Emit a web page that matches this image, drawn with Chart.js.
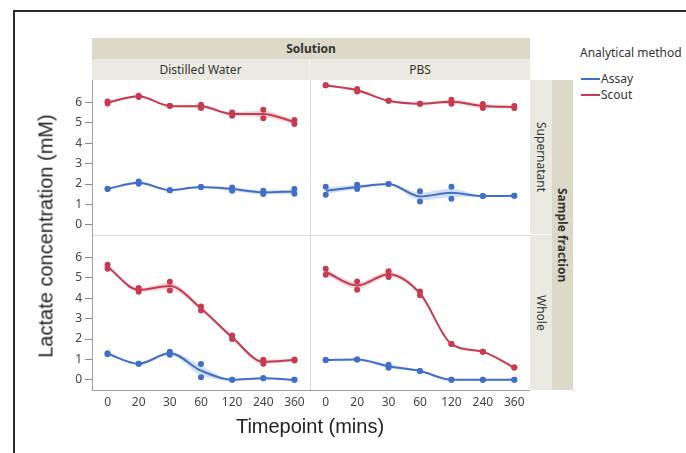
<!DOCTYPE html>
<html>
<head>
<meta charset="utf-8">
<script src="https://cdn.jsdelivr.net/npm/chart.js@4"></script>
<style>
body { margin: 0; width: 686px; height: 453px; background: #fff; position: relative; overflow: hidden; font-family: "Noto Sans", sans-serif; color: #333; }
.abs { position: absolute; }
.frame { left: 13px; top: 10px; width: 700px; height: 460px; border-left: 2px solid #2b2b2b; border-top: 2px solid #2b2b2b; }
.strip { display: flex; align-items: center; justify-content: center; font-size: 12px; color: #333; box-sizing: border-box; }
.outer { background: #dcd9c9; font-weight: bold; }
.inner { background: #ebeae2; }
.vert { writing-mode: vertical-rl; }
.line { background: #d9d9d9; }
canvas { position: absolute; }
.title { font-family: "Liberation Sans", Arial, sans-serif; font-size: 20px; color: #222; white-space: nowrap; }
.leg { font-size: 12px; color: #333; white-space: nowrap; }
.sw { position: absolute; height: 2px; width: 19px; }
</style>
</head>
<body>
<div class="abs frame"></div>

<!-- facet strips -->
<div class="abs strip outer" style="left:92px;top:38px;width:438px;height:21px;">Solution</div>
<div class="abs strip inner" style="left:92px;top:59px;width:218px;height:21px;border-right:1px solid #f7f7f3;">Distilled Water</div>
<div class="abs strip inner" style="left:310px;top:59px;width:220px;height:21px;">PBS</div>
<div class="abs strip inner vert" style="left:530px;top:80px;width:22px;height:155px;border-bottom:1px solid #f7f7f3;">Supernatant</div>
<div class="abs strip inner vert" style="left:530px;top:235px;width:22px;height:155px;">Whole</div>
<div class="abs strip outer vert" style="left:552px;top:80px;width:21px;height:310px;">Sample fraction</div>

<!-- panel separators -->
<div class="abs line" style="left:310px;top:80px;width:1px;height:310px;"></div>
<div class="abs line" style="left:92px;top:235px;width:438px;height:1px;"></div>

<canvas id="tl" width="260" height="155" style="left:50px;top:80px;"></canvas>
<canvas id="tr" width="220" height="155" style="left:310px;top:80px;"></canvas>
<canvas id="bl" width="260" height="185" style="left:50px;top:235px;"></canvas>
<canvas id="br" width="220" height="185" style="left:310px;top:235px;"></canvas>

<!-- axis titles -->
<div class="abs title" style="left:46px;top:236px;transform:translate(-50%,-50%) rotate(-90deg);">Lactate concentration (mM)</div>
<div class="abs title" style="left:310px;top:426px;transform:translate(-50%,-50%);">Timepoint (mins)</div>

<!-- legend -->
<div class="abs leg" style="left:580px;top:44px;">Analytical method</div>
<div class="sw" style="left:581px;top:78px;background:#3f6fca;"></div>
<div class="abs leg" style="left:601px;top:70px;">Assay</div>
<div class="sw" style="left:581px;top:94px;background:#c83a4f;"></div>
<div class="abs leg" style="left:601px;top:86px;">Scout</div>

<script>
// x categories and y tick labels
var timepoints = ["0", "20", "30", "60", "120", "240", "360"];
var yTickLabels = [0, 1, 2, 3, 4, 5, 6];

// Distilled Water - Supernatant (two replicates per timepoint)
var dwSupAssay1 = [1.77, 2.12, 1.70, 1.85, 1.83, 1.67, 1.75];
var dwSupAssay2 = [1.75, 2.01, 1.70, 1.85, 1.67, 1.51, 1.52];
var dwSupScout1 = [6.05, 6.33, 5.84, 5.89, 5.51, 5.64, 5.14];
var dwSupScout2 = [5.95, 6.27, 5.82, 5.73, 5.35, 5.23, 4.94];

// PBS - Supernatant
var pbsSupAssay1 = [1.86, 1.96, 2.00, 1.64, 1.86, 1.41, 1.42];
var pbsSupAssay2 = [1.47, 1.75, 2.00, 1.14, 1.28, 1.41, 1.42];
var pbsSupScout1 = [6.84, 6.66, 6.08, 5.94, 6.13, 5.92, 5.82];
var pbsSupScout2 = [6.84, 6.54, 6.08, 5.94, 5.94, 5.73, 5.73];

// Distilled Water - Whole
var dwWholeAssay1 = [1.30, 0.79, 1.37, 0.77, 0.00, 0.08, 0.00];
var dwWholeAssay2 = [1.25, 0.79, 1.23, 0.13, 0.00, 0.08, 0.00];
var dwWholeScout1 = [5.64, 4.50, 4.81, 3.60, 2.17, 0.98, 1.00];
var dwWholeScout2 = [5.45, 4.32, 4.38, 3.40, 2.00, 0.79, 0.95];

// PBS - Whole
var pbsWholeAssay1 = [0.97, 1.00, 0.74, 0.43, 0.00, 0.00, 0.00];
var pbsWholeAssay2 = [0.97, 1.00, 0.59, 0.43, 0.00, 0.00, 0.00];
var pbsWholeScout1 = [5.45, 4.82, 5.32, 4.33, 1.75, 1.37, 0.60];
var pbsWholeScout2 = [5.15, 4.42, 5.04, 4.14, 1.75, 1.37, 0.60];

var blue = "#3f6fca";
var red = "#c83a4f";
var blueBand = "rgba(63,111,202,0.22)";
var redBand = "rgba(200,58,79,0.22)";
var tickFont = { family: "Noto Sans", size: 12 };

// major ticks at the labels, minor ticks halfway between
var yTicks = [];
yTickLabels.forEach(function (v) { yTicks.push(v); yTicks.push(v + 0.5); });

function mean(a, b) { return a.map(function (v, i) { return (v + b[i]) / 2; }); }
function band(a, b, side) {
    // smoother confidence band, narrower than the replicate spread
    return a.map(function (v, i) {
        var m = (v + b[i]) / 2, d = Math.abs(v - b[i]) * 0.3 + 0.04;
        return side > 0 ? m + d : m - d;
    });
}

function seriesSets(r1, r2, color, fillColor) {
    var common = { cubicInterpolationMode: "monotone", pointRadius: 0 };
    return [
        Object.assign({ data: band(r1, r2, 1), borderWidth: 0, backgroundColor: fillColor, fill: "+1", order: 3 }, common),
        Object.assign({ data: band(r1, r2, -1), borderWidth: 0, fill: false, order: 3 }, common),
        Object.assign({ data: mean(r1, r2), borderColor: color, borderWidth: 2, fill: false, order: 2 }, common),
        { data: r1, showLine: false, pointRadius: 3, pointBackgroundColor: color, pointBorderWidth: 0, order: 1 },
        { data: r2, showLine: false, pointRadius: 3, pointBackgroundColor: color, pointBorderWidth: 0, order: 1 }
    ];
}

function makePanel(id, assay1, assay2, scout1, scout2, showY, showX) {
    var ctx = document.getElementById(id).getContext("2d");
    return new Chart(ctx, {
        type: "line",
        data: {
            labels: timepoints,
            datasets: seriesSets(scout1, scout2, red, redBand).concat(seriesSets(assay1, assay2, blue, blueBand))
        },
        options: {
            responsive: false,
            animation: false,
            events: [],
            layout: { padding: 0, autoPadding: false },
            plugins: { legend: { display: false }, tooltip: { enabled: false } },
            scales: {
                x: {
                    type: "category",
                    offset: true,
                    display: showX,
                    grid: { display: false, drawTicks: false },
                    border: { display: true, color: "#a0a0a0" },
                    ticks: { color: "#444", font: tickFont, padding: 5, autoSkip: false, maxRotation: 0 },
                    afterFit: function (s) {
                        s.height = showX ? 30 : 0;
                        s.paddingLeft = 0; s.paddingRight = 0;
                    }
                },
                y: {
                    min: -0.5,
                    max: 7.1,
                    display: showY,
                    afterBuildTicks: function (s) { s.ticks = yTicks.map(function (v) { return { value: v }; }); },
                    grid: {
                        drawOnChartArea: false,
                        tickLength: 7,
                        tickColor: function (c) { return Number.isInteger(c.tick.value) ? "#8a8a8a" : "#c4c4c4"; }
                    },
                    border: { display: true, color: "#a0a0a0" },
                    ticks: {
                        color: "#444",
                        font: tickFont,
                        padding: 3,
                        callback: function (v) { return Number.isInteger(v) ? v : ""; }
                    },
                    afterFit: function (s) {
                        s.width = showY ? 42 : 0;
                        s.paddingTop = 0; s.paddingBottom = 0;
                    }
                }
            }
        }
    });
}

makePanel("tl", dwSupAssay1, dwSupAssay2, dwSupScout1, dwSupScout2, true, false);
makePanel("tr", pbsSupAssay1, pbsSupAssay2, pbsSupScout1, pbsSupScout2, false, false);
makePanel("bl", dwWholeAssay1, dwWholeAssay2, dwWholeScout1, dwWholeScout2, true, true);
makePanel("br", pbsWholeAssay1, pbsWholeAssay2, pbsWholeScout1, pbsWholeScout2, false, true);
</script>
</body>
</html>
